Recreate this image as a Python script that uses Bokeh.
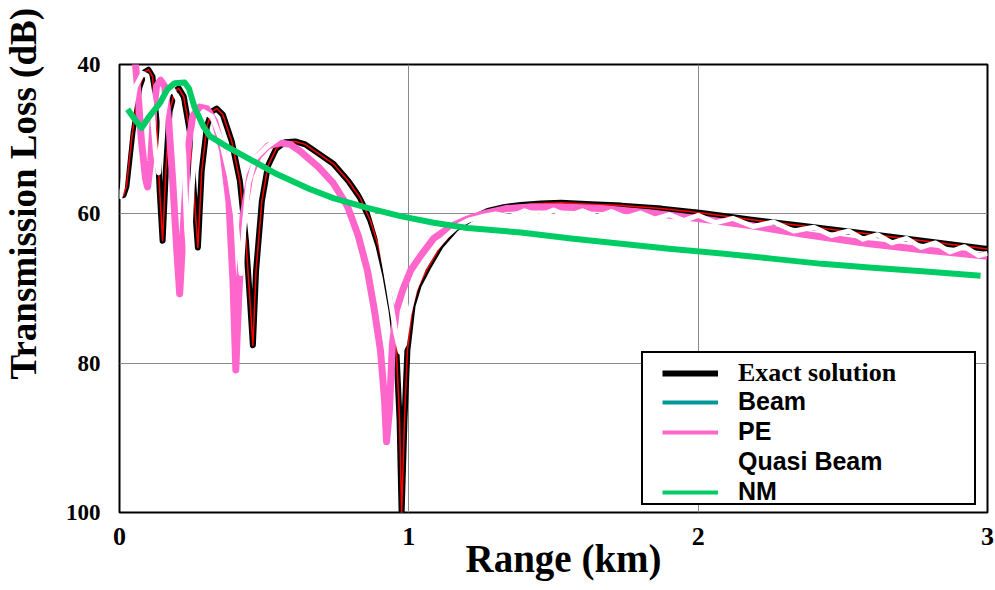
from bokeh.plotting import figure
from bokeh.models import Range1d, FixedTicker, Legend, LegendItem, Title
from bokeh.embed import file_html
from bokeh.resources import INLINE

# ---------------- data ----------------
series_names = ["Exact solution", "Beam", "PE", "Quasi Beam", "NM"]
x_ticks = [0, 1, 2, 3]
y_ticks = [40, 60, 80, 100]

exact_range = [0.0, 0.014, 0.024, 0.045, 0.069, 0.087, 0.10, 0.114, 0.128, 0.139, 0.149, 0.16,
               0.173, 0.191, 0.205, 0.222, 0.243, 0.257, 0.271, 0.284, 0.302, 0.319, 0.336, 0.357,
               0.388, 0.416, 0.437, 0.451, 0.461, 0.472, 0.492, 0.513, 0.541, 0.572, 0.607, 0.642,
               0.687, 0.739, 0.791, 0.832, 0.867, 0.895, 0.919, 0.94, 0.957, 0.968, 0.975, 0.985,
               0.995, 1.013, 1.034, 1.065, 1.11, 1.162, 1.214, 1.273, 1.328, 1.387, 1.457, 1.526,
               1.63, 1.734, 1.873, 2.012, 2.185, 2.358, 2.591, 2.775, 3.0]
exact_tl = [57.6, 57.5, 56.3, 49.0, 43.0, 41.0, 40.7, 41.6, 47.6, 57.0, 63.6, 54.3,
            46.3, 43.6, 43.2, 44.3, 49.0, 57.0, 64.5, 54.3, 48.3, 46.3, 45.9, 46.7,
            50.3, 55.6, 63.6, 71.6, 77.6, 67.6, 58.3, 53.6, 51.3, 50.4, 50.3, 50.7,
            51.9, 53.3, 55.6, 57.9, 60.9, 64.3, 68.3, 72.9, 78.3, 87.6, 100.0, 87.6,
            78.3, 72.3, 69.6, 67.3, 64.3, 62.0, 60.7, 59.6, 59.1, 58.8, 58.6, 58.5,
            58.7, 58.9, 59.3, 59.9, 60.8, 61.6, 62.7, 63.6, 64.7]

# Beam lies under the exact solution everywhere in the picture
beam_range = exact_range
beam_tl = exact_tl

pe_range = [0.05, 0.056, 0.064, 0.076, 0.09, 0.097, 0.108, 0.118, 0.128, 0.142, 0.156, 0.17,
            0.184, 0.198, 0.208, 0.222, 0.236, 0.253, 0.277, 0.302, 0.329, 0.357, 0.378, 0.392,
            0.402, 0.413, 0.427, 0.451, 0.479, 0.513, 0.555, 0.59, 0.624, 0.687, 0.739, 0.787,
            0.825, 0.857, 0.881, 0.902, 0.916, 0.923, 0.933, 0.943, 0.957, 0.978, 1.006, 1.041,
            1.086, 1.145, 1.203, 1.266, 1.335, 1.422, 1.526, 1.665, 1.838, 2.012, 2.185, 2.358,
            2.591, 2.775, 3.0]
pe_tl = [38.5, 40.3, 43.8, 50.3, 55.3, 56.4, 52.9, 46.3, 42.9, 42.1, 42.9, 47.6,
         55.6, 64.9, 70.7, 60.9, 51.6, 46.9, 45.7, 45.9, 47.6, 51.6, 58.3, 68.9,
         80.9, 70.3, 60.3, 54.9, 52.3, 50.9, 50.5, 50.7, 51.6, 53.7, 55.9, 58.9,
         62.9, 67.6, 72.9, 78.3, 84.9, 90.5, 86.3, 77.6, 72.9, 70.3, 67.6, 65.6,
         63.3, 61.7, 60.7, 59.9, 59.3, 59.1, 59.1, 59.3, 59.9, 60.7, 61.6, 62.7,
         64.0, 64.8, 65.7]

qb_range = [0.0, 0.010, 0.030, 0.055, 0.080, 0.095, 0.110, 0.125, 0.135, 0.148, 0.165, 0.185,
            0.205, 0.222, 0.232, 0.240, 0.250, 0.265, 0.290, 0.320, 0.350, 0.380, 0.400, 0.420,
            0.430, 0.445, 0.470, 0.510, 0.570, 0.640, 0.740, 0.830, 0.870, 0.900, 0.930, 0.955,
            0.970, 0.985, 1.000, 1.020, 1.050, 1.090, 1.130, 1.170, 1.210, 1.250, 1.30, 1.35,
            1.40, 1.45, 1.50, 1.55, 1.60, 1.65, 1.70, 1.75, 1.80, 1.85, 1.90, 1.95,
            2.00, 2.06, 2.12, 2.19, 2.26, 2.33, 2.40, 2.46, 2.52, 2.57, 2.62, 2.67,
            2.72, 2.77, 2.82, 2.87, 2.92, 2.97, 3.00]
qb_tl = [58.0, 56.5, 49.0, 43.0, 41.2, 41.5, 45.0, 52.0, 54.5, 48.0, 44.0, 43.4,
         45.0, 52.0, 62.0, 66.0, 57.0, 49.0, 46.3, 47.0, 50.0, 55.0, 60.0, 68.0,
         62.0, 56.0, 52.5, 51.0, 49.3, 49.5, 51.9, 56.3, 59.3, 63.2, 70.0, 76.0,
         78.5, 77.5, 73.5, 70.2, 67.4, 64.8, 63.0, 61.6, 60.8, 60.4, 60.0, 60.4,
         59.6, 60.3, 59.5, 60.3, 59.6, 60.4, 59.7, 60.5, 59.9, 60.7, 60.1, 60.9,
         60.2, 61.2, 60.6, 61.7, 61.1, 62.3, 61.8, 62.9, 62.3, 63.4, 62.8, 63.9,
         63.3, 64.5, 63.9, 65.1, 64.4, 65.6, 65.3]

nm_range = [0.028, 0.052, 0.076, 0.104, 0.139, 0.166, 0.191, 0.225, 0.24, 0.26, 0.29, 0.312,
            0.371, 0.451, 0.545, 0.659, 0.739, 0.857, 0.971, 1.086, 1.203, 1.387, 1.561, 1.734,
            1.908, 2.081, 2.254, 2.428, 2.591, 2.775, 2.976]
nm_tl = [46.0, 47.3, 48.5, 46.9, 45.2, 43.3, 42.5, 42.4, 43.2, 45.8, 48.3, 49.6,
         51.0, 52.7, 54.7, 56.7, 57.9, 59.2, 60.3, 61.2, 61.9, 62.5, 63.3, 64.0,
         64.7, 65.3, 66.0, 66.7, 67.2, 67.7, 68.3]

colors = {"Exact solution": "black", "Beam": "#009999", "PE": "#ff66cc",
          "Quasi Beam": "white", "NM": "#00cc66"}

SERIF = "Liberation Serif"
SANS = "Liberation Sans"
NAN = float("nan")

# ---------------- figure ----------------
p = figure(width=995, height=590, x_range=Range1d(0, 3), y_range=Range1d(100, 40),
           output_backend="svg", toolbar_location=None,
           min_border_left=119, min_border_right=8, min_border_top=64, min_border_bottom=78,
           background_fill_color="white", border_fill_color="white")

p.xaxis.ticker = FixedTicker(ticks=x_ticks)
p.yaxis.ticker = FixedTicker(ticks=y_ticks)
for ax in (p.xaxis[0], p.yaxis[0]):
    ax.axis_line_color = None
    ax.major_tick_line_color = None
    ax.minor_tick_line_color = None
    ax.major_tick_in = 0
    ax.major_tick_out = 0
    ax.minor_tick_in = 0
    ax.minor_tick_out = 0
    ax.major_label_text_font = SERIF
    ax.major_label_text_font_style = "bold"
    ax.major_label_text_color = "black"
p.xaxis.major_label_text_font_size = "26px"
p.yaxis.major_label_text_font_size = "23px"
p.xaxis.major_label_standoff = 15
p.yaxis.major_label_standoff = 19

p.xgrid.grid_line_color = "#8a8a8a"
p.ygrid.grid_line_color = "#8a8a8a"
p.xgrid.grid_line_width = 1
p.ygrid.grid_line_width = 1
p.outline_line_color = "black"
p.outline_line_width = 2
p.outline_line_alpha = 1

# axis titles
p.add_layout(Title(text=" ", text_font_size="1px", standoff=14), "left")
p.add_layout(Title(text="Transmission Loss (dB)", text_font=SERIF, text_font_style="bold",
                   text_font_size="37px", align="left", offset=133, vertical_align="top",
                   standoff=0, text_color="black"), "left")
p.add_layout(Title(text="Range (km)", text_font=SERIF, text_font_style="bold",
                   text_font_size="39px", align="left", offset=346, vertical_align="top",
                   standoff=-22, text_color="black"), "below")

# ---------------- curves ----------------
p.line(beam_range, beam_tl, line_color=colors["Beam"], line_width=4, line_join="round")
p.line(exact_range, exact_tl, line_color=colors["Exact solution"], line_width=6, line_join="round")
p.line(exact_range, exact_tl, line_color="red", line_width=1.5, line_join="round")
p.line(pe_range, pe_tl, line_color=colors["PE"], line_width=7, line_join="round")
p.line(qb_range, qb_tl, line_color=colors["Quasi Beam"], line_width=5, line_join="round")
p.line(nm_range, nm_tl, line_color=colors["NM"], line_width=6, line_join="round")

# ---------------- legend (key glyphs only, no data drawn) ----------------
blank = p.line(x=[NAN], y=[NAN], line_alpha=0)
lg = {}
for name in series_names:
    lg[name] = p.line(x=[NAN], y=[NAN], line_color=colors[name],
                      line_width=6 if name == "Exact solution" else 4)

box = Legend(items=[LegendItem(label=" ", renderers=[blank])], location=(522, 7),
             glyph_width=331, glyph_height=150, label_width=0, label_height=0,
             label_standoff=0, label_text_font_size="1px", padding=0, margin=0, spacing=0,
             border_line_color="black", border_line_width=2, border_line_alpha=1,
             background_fill_color="white", background_fill_alpha=1)

leg_a = Legend(items=[LegendItem(label=series_names[0], renderers=[lg[series_names[0]]])],
               location=(543, 124), glyph_width=56, glyph_height=28, label_height=28,
               label_standoff=20, padding=0, margin=0, spacing=0,
               label_text_font=SERIF, label_text_font_style="bold", label_text_font_size="26px",
               label_text_color="black", border_line_alpha=0, background_fill_alpha=0)

leg_b = Legend(items=[LegendItem(label=n, renderers=[lg[n]]) for n in series_names[1:]],
               location=(543, 6), glyph_width=56, glyph_height=28, label_height=28,
               label_standoff=20, padding=0, margin=0, spacing=1,
               label_text_font=SANS, label_text_font_style="bold", label_text_font_size="25px",
               label_text_color="black", border_line_alpha=0, background_fill_alpha=0)

for lgd in (box, leg_a, leg_b):
    p.add_layout(lgd)

open("out.html", "w").write(file_html(p, INLINE))
